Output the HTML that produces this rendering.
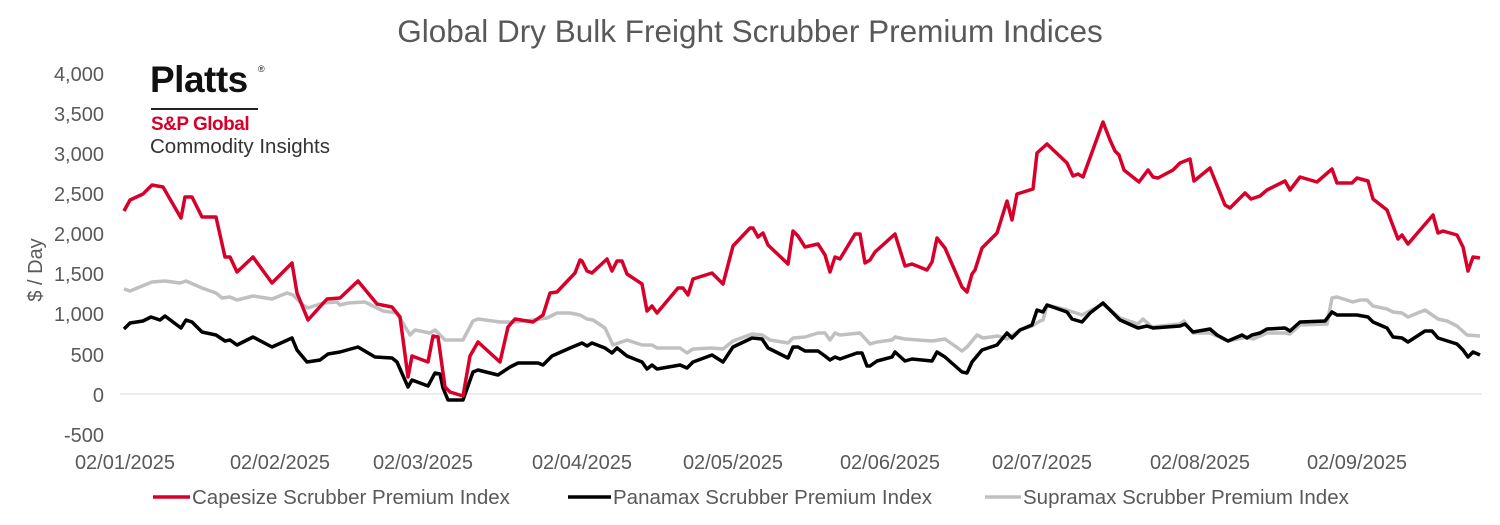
<!DOCTYPE html>
<html><head><meta charset="utf-8"><style>html,body{margin:0;padding:0;background:#fff}svg{display:block}</style></head><body>
<svg width="1500" height="525" xmlns="http://www.w3.org/2000/svg" font-family="Liberation Sans, sans-serif">
<text x="750" y="42" text-anchor="middle" font-size="31.5" fill="#595959">Global Dry Bulk Freight Scrubber Premium Indices</text>
<g font-size="20" fill="#595959" text-anchor="end">
<text x="104" y="81">4,000</text><text x="104" y="121">3,500</text><text x="104" y="161">3,000</text><text x="104" y="201">2,500</text><text x="104" y="241">2,000</text><text x="104" y="281">1,500</text><text x="104" y="321">1,000</text><text x="104" y="362">500</text><text x="104" y="402">0</text><text x="104" y="442">-500</text>
</g>
<text transform="translate(42,270) rotate(-90)" text-anchor="middle" font-size="20" fill="#595959">$ / Day</text>
<g font-size="20" fill="#595959" text-anchor="middle">
<text x="125" y="469">02/01/2025</text><text x="280" y="469">02/02/2025</text><text x="423" y="469">02/03/2025</text><text x="582" y="469">02/04/2025</text><text x="733" y="469">02/05/2025</text><text x="890" y="469">02/06/2025</text><text x="1042" y="469">02/07/2025</text><text x="1200" y="469">02/08/2025</text><text x="1357" y="469">02/09/2025</text>
</g>
<line x1="120" y1="394" x2="1482" y2="394" stroke="#d9d9d9" stroke-width="1"/>
<text x="150" y="92" font-size="37" font-weight="bold" fill="#111" letter-spacing="-0.5">Platts</text>
<text x="258" y="72" font-size="9" fill="#111">®</text>
<rect x="151" y="108" width="107" height="2" fill="#222"/>
<text x="151" y="130" font-size="19" font-weight="bold" fill="#d6002a" letter-spacing="-0.5">S&amp;P Global</text>
<text x="150" y="153" font-size="20.5" fill="#333">Commodity Insights</text>
<g fill="none" stroke-width="3.5" stroke-linejoin="round">
<polyline stroke="#c0c0c0" points="124,289 130,291 152,282 165,281 180,283 186,281 202,288 216,293 222,298 230,297 237,300 253,296 272,299 287,293 293,295 303,305 308,308 323,303 337,302 340,305 348,303 365,302 377,308 383,311 397,313 410,335 415,330 430,333 435,330 445,340 463,340 473,321 478,319 500,322 515,322 533,320 547,318 557,313 570,313 580,315 587,319 593,320 605,328 613,345 627,340 642,345 652,345 657,348 680,348 687,353 693,349 712,348 723,349 733,341 752,334 762,335 770,340 788,343 793,338 805,337 818,333 825,333 830,340 835,333 840,335 860,333 870,344 877,342 892,340 895,337 905,339 932,341 945,339 962,351 967,347 977,335 983,338 998,336 1007,339 1020,330 1032,326 1040,321 1043,320 1047,305 1067,310 1082,315 1103,304 1120,318 1138,324 1143,319 1152,327 1180,324 1184,321 1193,333 1210,333 1228,341 1247,337 1253,339 1267,333 1285,333 1290,334 1300,325 1327,324 1332,298 1337,297 1353,302 1360,300 1367,300 1373,306 1387,309 1393,312 1402,313 1408,317 1425,310 1438,319 1447,321 1457,326 1467,335 1480,336"/>
<polyline stroke="#000" points="124,329 130,323 143,321 151,317 160,320 165,316 181,328 186,320 192,322 202,332 216,335 225,341 230,340 237,345 253,337 272,347 292,338 297,350 307,362 320,360 328,354 340,352 358,347 375,357 392,358 397,362 408,387 412,380 428,386 435,373 440,374 443,388 448,400 463,400 473,372 478,370 498,375 510,367 518,363 538,363 543,365 552,356 570,348 582,343 587,346 592,343 605,348 612,353 617,348 627,356 642,362 647,369 652,365 657,369 680,365 687,368 693,362 712,355 723,362 733,347 752,338 762,339 768,348 788,358 793,347 798,347 805,351 818,351 825,356 830,360 835,357 840,359 857,353 862,353 867,366 870,366 877,361 892,357 895,352 905,361 912,359 932,361 937,352 945,357 962,372 967,373 972,362 982,350 997,345 1007,333 1012,338 1017,333 1020,330 1032,325 1037,310 1043,312 1047,305 1067,312 1072,319 1082,322 1090,313 1103,303 1120,320 1138,328 1147,326 1153,328 1180,326 1185,324 1193,332 1210,329 1217,335 1228,341 1242,335 1247,338 1252,335 1260,333 1267,329 1285,328 1290,331 1300,322 1325,321 1332,312 1337,315 1357,315 1368,317 1373,322 1387,328 1393,337 1402,338 1408,342 1425,331 1432,331 1438,338 1457,344 1463,350 1468,357 1473,352 1480,355"/>
<polyline stroke="#d6002a" points="124,211 130,200 143,194 152,185 163,187 181,218 185,197 192,197 202,217 216,217 225,257 230,257 237,272 253,257 272,283 292,263 297,293 308,320 327,299 340,298 358,281 377,304 392,307 400,317 408,377 412,356 428,362 433,336 438,337 445,387 450,392 463,396 470,356 478,342 500,362 508,327 515,319 533,322 543,315 550,293 557,292 575,273 580,260 582,261 587,271 592,273 607,259 612,271 617,261 622,261 627,274 642,284 647,311 652,306 657,313 678,288 683,288 688,295 693,279 712,273 723,284 733,246 750,228 753,228 758,237 763,233 768,245 788,264 793,231 798,236 805,247 818,244 825,255 830,272 835,257 840,259 855,234 860,234 865,263 870,260 875,252 895,234 905,266 912,264 927,270 932,262 937,238 945,248 962,287 967,292 972,274 975,270 982,248 997,233 1007,201 1012,220 1017,194 1033,189 1037,153 1047,144 1067,163 1073,176 1078,174 1083,177 1103,122 1110,140 1115,151 1119,155 1124,170 1139,182 1148,170 1153,177 1158,178 1173,170 1180,163 1190,159 1194,181 1210,168 1225,205 1230,208 1245,193 1251,199 1260,196 1267,190 1285,181 1290,190 1300,177 1317,182 1332,169 1337,183 1352,183 1357,178 1368,181 1373,199 1387,210 1398,239 1402,235 1408,244 1433,215 1438,233 1443,231 1457,235 1463,247 1468,271 1473,257 1480,258"/>
</g>
<g font-size="20.5" fill="#595959">
<line x1="153" y1="497" x2="190" y2="497" stroke="#d6002a" stroke-width="3.5"/><text x="192" y="504">Capesize Scrubber Premium Index</text>
<line x1="568" y1="497" x2="611" y2="497" stroke="#000" stroke-width="3.5"/><text x="613" y="504">Panamax Scrubber Premium Index</text>
<line x1="985" y1="497" x2="1021" y2="497" stroke="#c0c0c0" stroke-width="3.5"/><text x="1023" y="504">Supramax Scrubber Premium Index</text>
</g>
</svg>
</body></html>
